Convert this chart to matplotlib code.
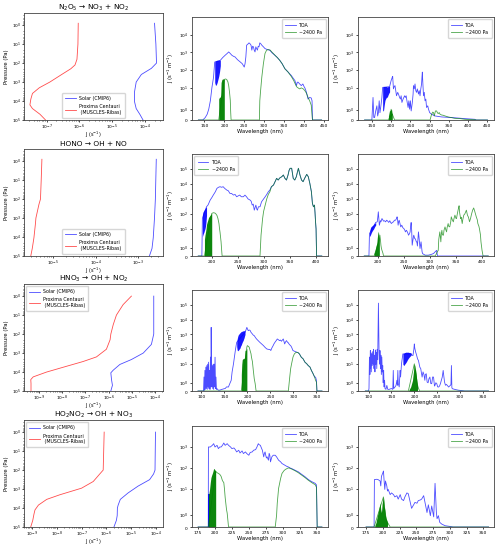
import matplotlib
matplotlib.use('Agg')
import matplotlib.pyplot as plt
import numpy as np

# ---- vertical J profiles (left column) ----
n2o5_sun_p = [0.8, 10, 100, 190, 400, 1000, 3200, 11000, 25000, 50000, 100000]
n2o5_sun_j = [2.0e-4, 2.2e-4, 2.3e-4, 1.6e-4, 7.9e-5, 5.5e-5, 4.9e-5, 4.9e-5, 5.5e-5, 7.1e-5, 8.9e-5]
n2o5_prox_p = [0.8, 10, 63, 126, 200, 400, 1000, 2000, 4000, 8000, 16000, 25000, 50000, 100000]
n2o5_prox_j = [9.3e-7, 9.1e-7, 8.5e-7, 7.4e-7, 5.5e-7, 2.9e-7, 1.26e-7, 6.0e-8, 3.7e-8, 3.3e-8, 3.1e-8, 3.7e-8, 6.3e-8, 9.3e-8]

hono_sun_p = [0.8, 10, 100, 1000, 11000, 40000, 100000]
hono_sun_j = [2.7e-3, 2.63e-3, 2.57e-3, 2.45e-3, 2.29e-3, 2.14e-3, 1.86e-3]
hono_prox_p = [0.8, 10, 100, 190, 1000, 2000, 11000, 40000, 100000]
hono_prox_j = [5.4e-6, 5.2e-6, 5.0e-6, 4.6e-6, 3.9e-6, 3.8e-6, 3.5e-6, 3.2e-6, 2.95e-6]

hno3_sun_p = [1, 100, 350, 1000, 2200, 4000, 8000, 11000, 25000, 50000, 100000]
hno3_sun_j = [9.1e-5, 9.1e-5, 7.2e-5, 3.2e-5, 9.8e-6, 3.1e-6, 1.6e-6, 1.26e-6, 1.35e-6, 1.48e-6, 1.26e-6]
hno3_prox_p = [1, 2.8, 10, 32, 100, 200, 630, 1600, 2800, 5000, 10000, 18000, 25000, 40000, 100000]
hno3_prox_j = [9.8e-6, 4.3e-6, 2.2e-6, 1.6e-6, 1.26e-6, 1.17e-6, 8.1e-7, 3.0e-7, 7.9e-8, 1.5e-8, 2.1e-9, 5.5e-10, 4.3e-10, 4.4e-10, 4.4e-10]

ho2no2_sun_p = [1, 100, 160, 320, 700, 1600, 3500, 7000, 10000, 25000, 45000, 100000]
ho2no2_sun_j = [9.3e-5, 8.9e-5, 7.8e-5, 5.4e-5, 1.86e-5, 7.4e-6, 3.6e-6, 2.95e-6, 2.75e-6, 2.7e-6, 2.5e-6, 2.0e-6]
ho2no2_prox_p = [1, 100, 160, 400, 900, 2000, 3500, 7000, 12600, 21000, 45000, 100000]
ho2no2_prox_j = [8.1e-7, 7.4e-7, 5.4e-7, 2.95e-7, 1.0e-7, 1.35e-8, 4.0e-9, 1.86e-9, 1.35e-9, 1.23e-9, 1.1e-9, 9.1e-10]

# ---- N2O5 spectra ----
n2o5_sun_toa_wl = [135, 146, 152, 157, 161, 165, 169, 173, 176, 190, 196, 202, 207, 211, 215, 219, 223, 227, 233, 240, 245,
                   250, 252, 254, 256, 259, 262, 265, 267, 269, 271, 273, 275, 277, 279, 281, 283, 285, 287, 289, 292,
                   294, 298, 302, 308, 314, 320, 327, 333, 339, 345, 352, 356, 360, 364, 368, 372, 377, 381, 383, 385,
                   389, 393, 397, 400, 402, 404, 406, 408, 410, 414, 418, 420, 421, 444]
n2o5_sun_toa = [0, 0, 0.24, 0.58, 1.1, 1.95, 10.7, 40, 290, 360, 514, 692, 870, 1070, 870, 692, 607, 556, 392, 290, 232,
                150, 232, 556, 2570, 2940, 3470, 3000, 2570, 1350, 2240, 2080, 1350, 1070, 2080, 1660, 1350, 2240, 2080, 3470, 3000,
                2570, 2080, 1660, 1450, 1350, 940, 692, 514, 360, 232, 120, 97, 78, 62, 50, 37, 26, 13.5, 21, 21,
                16.7, 13.5, 16.7, 11.8, 10, 7.6, 5.6, 3.6, 2.35, 2.9, 2.7, 1.95, 0, 0]
n2o5_sun_band_wl = [176, 178, 180, 182, 184, 186, 188, 190]
n2o5_sun_band_lo = [20, 14, 15, 20, 30, 45, 80, 180]
n2o5_sun_band_hi = [290, 330, 350, 360, 360, 370, 370, 360]
n2o5_sun_low_wl = [135, 186, 200, 203, 206, 209, 211, 213, 215, 216, 217, 288, 289, 291, 294, 296, 298, 300, 302, 306, 310,
                   315, 319, 323, 327, 333, 339, 345, 352, 360, 368, 374, 381, 385, 389, 393, 398, 402, 406, 410, 414,
                   418, 421, 444]
n2o5_sun_low = [0, 0, 30, 32, 30, 22, 13.5, 6, 2, 0.8, 0, 0, 1.95, 7, 40, 97, 232, 448, 870, 1350, 1450,
                1350, 1070, 870, 692, 514, 360, 232, 120, 78, 44, 26, 11.8, 10, 8.8, 10, 8.8, 7, 5, 2.9, 1.95,
                1.5, 0, 0]
n2o5_sun_low_band_wl = [186, 188, 190, 191, 192, 194, 196, 198, 200]
n2o5_sun_low_band_hi = [2.4, 3, 3, 4, 20, 30, 32, 32, 30]

n2o5_prox_toa_wl = [131, 150, 153, 155, 157, 160, 163, 165, 167, 169, 171, 174, 176, 178, 196, 200, 203, 204, 206, 208,
                    210, 212, 214, 217, 219, 222, 224, 226, 228, 231, 233, 235, 237, 239, 241, 244, 246, 248, 250, 252,
                    255, 257, 258, 260, 262, 264, 266, 268, 271, 273, 275, 277, 279, 280, 281, 282, 284, 286, 288, 290,
                    292, 295, 297, 300, 305, 314, 331, 357, 391, 417, 421, 450]
n2o5_prox_toa = [0, 0, 2.9, 0.25, 0.25, 0.92, 1.44, 0.41, 0.75, 1.95, 0.75, 1.61, 2.9, 10.7, 11.8, 26, 40, 45, 8.8, 11.8,
                 13.5, 7, 3.6, 5.6, 4.5, 2.9, 2.35, 3.6, 1.78, 2.35, 2.9, 3.6, 2.9, 3.6, 1.95, 1.27, 1.95, 1.1, 1.95, 0.92,
                 1.78, 4.5, 13.5, 8.8, 16.7, 7, 5.6, 8.8, 4.5, 7, 3.6, 8.8, 16.7, 40, 78, 26, 3.6, 5.6, 1.95, 2.35,
                 1.27, 1.44, 1.1, 0.75, 0.58, 0.41, 0.31, 0.25, 0.14, 0.07, 0, 0]
n2o5_prox_band_wl = [178, 180, 182, 184, 186, 188, 190, 192, 194, 196]
n2o5_prox_band_lo = [1, 0.9, 1.5, 2, 2.5, 3, 3, 4, 5, 6]
n2o5_prox_band_hi = [11, 12, 12, 12, 12, 12, 11, 12, 12, 12]
n2o5_prox_low_wl = [131, 192, 203, 205, 207, 209, 301, 305, 308, 310, 312, 315, 318, 320, 322, 325, 327, 331, 335, 340,
                    348, 357, 365, 380, 391, 417, 421, 450]
n2o5_prox_low = [0, 0, 0.6, 0.4, 0.2, 0, 0, 0.58, 0.8, 0.75, 0.41, 0.92, 0.92, 0.75, 0.65, 0.75, 0.58, 0.51, 0.48, 0.41,
                 0.31, 0.24, 0.17, 0.14, 0.07, 0.03, 0, 0]
n2o5_prox_low_band_wl = [193, 194, 195, 196, 197, 198, 199, 200, 201, 202, 203]
n2o5_prox_low_band_hi = [0.4, 0.6, 0.8, 1.0, 0.9, 1.2, 1.0, 1.2, 1.1, 0.8, 0.6]

# ---- HONO spectra ----
hono_sun_toa_wl = [174, 181, 182, 190, 193, 197, 200, 203, 207, 210, 213, 216, 219, 222, 225, 229, 232, 235, 238, 242,
                   245, 248, 251, 254, 257, 261, 264, 267, 270, 274, 276, 278, 280, 282, 284, 285, 287, 288, 290, 293,
                   296, 299, 303, 306, 309, 312, 315]
hono_sun_toa = [0, 0, 50, 300, 400, 836, 1200, 1810, 3020, 5060, 6000, 6550, 6000, 6550, 5060, 3910, 3500, 2340, 2340, 1810,
                2000, 1400, 1600, 1810, 1400, 1400, 1800, 1400, 1000, 836, 700, 387, 450, 178, 300, 387, 200, 178, 300, 299,
                646, 900, 1400, 2000, 3020, 3910, 6550]
hono_sun_band_wl = [182, 183, 184, 185, 186, 187, 188, 189, 190]
hono_sun_band_lo = [3, 4, 5, 6, 8, 10, 15, 30, 80]
hono_sun_band_hi = [80, 130, 150, 170, 200, 220, 250, 280, 300]
hono_sun_low_wl = [174, 186, 200, 203, 206, 208, 210, 212, 214, 215, 216, 218, 219, 220, 293, 295, 298, 300, 303, 306,
                   309, 312, 315, 319, 322, 325, 328, 331, 335, 338, 341, 344, 347, 349, 351, 354, 357, 360, 363, 365,
                   367, 370, 373, 376, 379, 383, 386, 389, 392, 394, 396, 398, 399, 400, 401, 402, 412]
hono_sun_low = [0, 0, 107, 120, 115, 100, 80, 49, 22, 10.5, 6, 1.7, 0.8, 0, 0, 3.8, 49, 150, 387, 1000,
                2000, 3000, 6550, 8460, 14150, 23700, 18300, 25000, 30600, 39600, 23700, 18300, 39600, 80000, 111000, 111000, 23700, 18300, 30600, 60000,
                111000, 39600, 18300, 14150, 23700, 43700, 30600, 10950, 3020, 500, 299, 387, 120, 29.5, 10, 0, 0]
hono_sun_low_band_wl = [186, 187, 188, 189, 190, 191, 192, 193, 194, 195, 196, 197, 198, 199, 200]
hono_sun_low_band_hi = [2, 3.8, 6, 10, 20, 27, 35, 45, 60, 64, 75, 83, 90, 100, 107]

hono_prox_toa_wl = [174, 183, 184, 196, 199, 200, 201, 202, 203, 205, 206, 208, 210, 211, 213, 215, 217, 219, 221, 223,
                    224, 226, 228, 230, 232, 234, 236, 237, 238, 239, 240, 241, 243, 244, 246, 248, 250, 252, 253, 255,
                    257, 259, 261, 262, 263, 264, 265, 266, 268, 269, 271, 272, 274, 275, 276, 277, 278, 279, 281, 283,
                    285, 286, 291, 297, 303, 307, 310, 313, 314, 315, 412]
hono_prox_toa = [0, 0, 4.9, 27, 29.5, 60, 138, 50, 17.6, 35, 29.5, 49, 38, 33, 35, 29.5, 38, 33, 27, 35,
                 29.5, 22.8, 27, 29.5, 38, 38, 49, 64, 40, 17.6, 29.5, 38, 20, 13.6, 17.6, 12, 10.5, 8, 6.3, 8.1,
                 6, 3.8, 5, 6.3, 15, 26.6, 8, 1.3, 2.5, 3.8, 2.2, 2.2, 1.7, 1.7, 1.2, 2, 6.3, 3, 0.9, 1.7,
                 0.5, 0.28, 0.1, 0.1, 0.2, 0.3, 0.5, 0.68, 0.2, 0, 0]
hono_prox_band_wl = [184, 185, 186, 187, 188, 189, 190, 191, 192, 193, 194, 195, 196]
hono_prox_band_lo = [3, 3.5, 4, 5, 6, 7, 8, 9, 10, 12, 14, 16, 18]
hono_prox_band_hi = [5, 9, 12, 14, 15, 16, 17, 18, 20, 22, 23, 25, 27]
hono_prox_low_wl = [174, 193, 203, 204, 205, 206, 207, 208, 209, 210, 211, 310, 312, 314, 316, 317, 319, 320, 321, 322,
                    323, 324, 326, 327, 329, 330, 332, 333, 335, 336, 338, 340, 341, 343, 345, 346, 348, 350, 351, 353,
                    355, 356, 357, 359, 360, 362, 363, 365, 367, 370, 372, 374, 376, 378, 380, 382, 384, 386, 389, 391,
                    392, 394, 395, 397, 398, 400, 402, 412]
hono_prox_low = [0, 0, 2, 3.8, 2, 1.29, 0.9, 0.68, 0.5, 0.3, 0, 0, 0.2, 0.5, 0.68, 2, 6.3, 3, 1.7, 5,
                 8.1, 4, 3.8, 8, 13.6, 10, 6.3, 12, 22.8, 15, 13.6, 30, 64, 40, 29.5, 45, 83, 50, 49, 120,
                 250, 350, 120, 49, 60, 22.8, 40, 83, 100, 178, 83, 60, 30, 50, 100, 178, 250, 150, 64, 40,
                 22.8, 15, 10.5, 4, 1.7, 0.7, 0, 0]
hono_prox_low_band_wl = [193, 194, 195, 196, 197, 198, 199, 200, 201, 202, 203]
hono_prox_low_band_hi = [0.3, 0.5, 0.7, 1.0, 1.3, 1.5, 2.5, 5, 7, 4, 2]

# ---- HNO3 spectra ----
hno3_sun_toa_wl = [93, 105, 106, 107, 108, 109, 110, 111, 112, 113, 114, 115, 116, 117, 118, 119, 120, 121, 121.6, 122,
                   123, 124, 125, 126, 127, 128, 129, 130, 131, 132, 133, 134, 137, 140, 145, 150, 152, 155, 159, 162,
                   165, 167, 170, 172, 174, 176, 177, 195, 197, 199, 200, 202, 204, 206, 208, 211, 213, 215, 218, 220,
                   223, 227, 231, 235, 238, 242, 245, 249, 251, 253, 256, 258, 260, 263, 265, 267, 270, 272, 274, 276,
                   278, 280, 281, 283, 285, 287, 288, 290, 292, 294, 296, 299, 302, 307, 310, 313, 317, 321, 325, 329,
                   332, 336, 339, 342, 346, 348, 350, 351, 362]
hno3_sun_toa = [0, 0, 1.7, 0.1, 3.8, 0.2, 6.3, 0.3, 8, 0.2, 10, 0.5, 13.6, 0.3, 3.8, 0.2, 30, 0.5, 3020, 50,
                0.5, 8.1, 0.3, 10, 0.2, 10, 0.5, 29.5, 0.3, 1.69, 0.2, 0.3, 0.1, 0.1, 0.2, 0.28, 0.3, 0.5, 0.48, 0.9,
                1.29, 3, 10.5, 30, 83, 200, 299, 1400, 2000, 3020, 2500, 1810, 2000, 1900, 1400, 1080, 900, 836, 600, 499,
                400, 299, 231, 178, 140, 107, 100, 98, 83, 120, 178, 240, 299, 400, 499, 450, 387, 420, 350, 420,
                499, 300, 231, 320, 387, 300, 299, 240, 200, 178, 140, 83, 75, 64, 60, 49, 29.5, 22.8, 13.6, 10.5,
                8.1, 6.3, 3.77, 2.5, 1.69, 1.69, 1.29, 0, 0]
hno3_sun_band_wl = [177, 178, 179, 180, 181, 182, 183, 184, 185, 186, 187, 188, 189, 190, 191, 192, 193, 194, 195]
hno3_sun_band_lo = [150, 90, 80, 83, 90, 100, 110, 120, 150, 180, 200, 250, 300, 350, 400, 500, 600, 800, 1000]
hno3_sun_band_hi = [300, 500, 700, 900, 1000, 1100, 1200, 1300, 1400, 1500, 1600, 1600, 1700, 1700, 1800, 1800, 1800, 1800, 1810]
hno3_sun_low_wl = [93, 187, 199, 200, 202, 204, 206, 208, 209, 211, 213, 215, 217, 219, 289, 292, 294, 296, 299, 302,
                   305, 307, 310, 313, 317, 321, 325, 329, 332, 336, 339, 342, 346, 348, 350, 351, 362]
hno3_sun_low = [0, 0, 140, 178, 160, 140, 83, 50, 29.5, 15, 3.8, 1.5, 0.9, 0, 0, 1.69, 5, 10.5, 29.5, 49,
                60, 64, 60, 49, 29.5, 22.8, 13.6, 10.5, 8.1, 6.3, 3.77, 2.5, 1.69, 1.29, 1.08, 0, 0]
hno3_sun_low_band_wl = [187, 188, 189, 190, 191, 192, 193, 194, 195, 196, 197, 198, 199]
hno3_sun_low_band_hi = [2, 10, 20, 22.8, 22.8, 25, 22.8, 30, 83, 90, 83, 100, 120]

hno3_prox_toa_wl = [93, 100, 101, 102, 103, 104, 104.5, 105, 106, 107, 108, 109, 110, 111, 112, 113, 114, 115, 116, 117,
                    118, 119, 120, 121.6, 123, 124, 125, 126, 127, 128, 129, 130, 131, 132, 133, 134, 135, 136, 138, 140,
                    142, 145, 150, 153, 154, 155, 158, 160, 162, 163, 164, 165, 167, 169, 170, 172, 174, 175, 193, 195,
                    197, 199, 200, 201, 203, 205, 207, 209, 212, 214, 217, 219, 221, 223, 224, 226, 228, 230, 232, 234,
                    236, 238, 240, 242, 244, 245, 247, 249, 251, 253, 255, 257, 259, 261, 263, 264, 266, 268, 270, 272,
                    275, 277, 279, 280, 281, 282, 283, 288, 296, 303, 310, 362]
hno3_prox_toa = [0, 0, 0.3, 30, 2, 83, 5, 60, 3, 49, 8, 70, 10, 100, 5, 40, 3, 90, 10, 60,
                 5, 100, 20, 130000, 60, 10, 83, 5, 40, 2, 30, 3, 8, 1, 3.8, 0.5, 1.3, 0.3, 0.2, 0.68,
                 0.2, 0.2, 0.3, 0.2, 3.8, 0.3, 0.5, 0.68, 1.3, 0.7, 3.8, 0.9, 0.5, 3.8, 1.7, 10.5, 29.5, 49, 49, 40,
                 38, 100, 231, 120, 64, 40, 22.8, 17.6, 6.3, 5, 1.69, 3, 2, 1.3, 2, 2.25, 1.08, 1, 1.5, 1.69,
                 0.9, 0.89, 1.7, 1.69, 0.6, 0.68, 1, 0.89, 0.5, 0.48, 0.6, 0.89, 1.3, 1.69, 3.77, 2, 1.08, 0.7, 0.8, 0.68,
                 0.48, 0.6, 0.7, 0.8, 8.1, 0.4, 0.28, 0.2, 0.1, 0.05, 0, 0]
hno3_prox_band_wl = [175, 177, 179, 181, 183, 185, 187, 189, 191, 193]
hno3_prox_band_lo = [10, 8, 10, 12, 15, 20, 25, 30, 35, 40]
hno3_prox_band_hi = [50, 55, 60, 64, 64, 64, 64, 60, 60, 55]
hno3_prox_low_wl = [93, 187, 200, 202, 204, 206, 208, 210, 212, 362]
hno3_prox_low = [0, 0, 10.5, 4, 2, 1, 0.5, 0.2, 0, 0]
hno3_prox_low_band_wl = [188, 190, 192, 194, 196, 198, 199, 200, 201, 202, 203, 205, 207]
hno3_prox_low_band_hi = [0.1, 0.3, 0.5, 0.9, 1.3, 3, 6, 10.5, 8, 5, 3.8, 1.5, 0.68]

# ---- HO2NO2 spectra ----
ho2no2_sun_toa_wl = [175, 190, 190.3, 193, 196, 198, 200, 203, 205, 207, 209, 211, 213, 215, 218, 220, 223, 225, 228, 230,
                     232, 235, 237, 240, 242, 245, 247, 250, 252, 255, 257, 260, 262, 264, 265, 267, 269, 270, 272, 273,
                     274, 275, 276, 277, 279, 280, 281, 282, 284, 286, 289, 291, 294, 297, 299, 301, 303, 306, 308, 311,
                     313, 318, 323, 328, 333, 338, 343, 348, 350, 351, 358]
ho2no2_sun_toa = [0, 0, 1000, 1000, 1200, 1440, 1000, 1200, 837, 1000, 1000, 1200, 1550, 1200, 1440, 1200, 1000, 837, 900, 750,
                  583, 700, 520, 650, 486, 583, 486, 405, 550, 583, 700, 750, 1000, 1440, 1300, 1200, 837, 700, 338, 500,
                  583, 400, 300, 338, 235, 500, 405, 196, 338, 405, 405, 338, 235, 196, 163, 150, 137, 120, 114, 100,
                  95, 79, 66, 50, 38.4, 28, 22.3, 18.6, 15.5, 0, 0]
ho2no2_sun_band_wl = [190, 191, 192, 193]
ho2no2_sun_band_lo = [0, 0, 0, 0]
ho2no2_sun_band_hi = [5.8, 5.8, 5.8, 5.8]
ho2no2_sun_low_wl = [175, 190, 201, 203, 205, 207, 209, 211, 213, 214, 215, 217, 218, 220, 289, 291, 292, 294, 297, 299,
                     302, 304, 308, 310, 311, 313, 318, 323, 328, 333, 338, 343, 348, 350, 351, 358]
ho2no2_sun_low = [0, 0, 70, 60, 55, 50, 40, 25, 20, 10, 4, 1.5, 1.19, 0, 0, 1, 2.1, 10.8, 32, 55,
                  75, 85, 100, 100, 95, 90, 75, 60, 46, 35, 26, 20, 16, 12, 0, 0]
ho2no2_sun_low_band_wl = [190.5, 191, 192, 193, 194, 195, 196, 197, 198, 199, 200, 201]
ho2no2_sun_low_band_hi = [5.8, 6, 10, 20, 35, 45, 55, 70, 95, 90, 80, 70]

ho2no2_prox_toa_wl = [175, 187, 187.5, 191, 193, 196, 197, 198, 200, 201, 202, 203, 204, 206, 207, 208, 211, 213, 216, 218,
                      221, 223, 226, 228, 231, 233, 236, 238, 241, 243, 246, 248, 251, 253, 256, 258, 261, 263, 266, 268,
                      271, 273, 276, 278, 280, 281, 283, 285, 288, 293, 300, 305, 358]
ho2no2_prox_toa = [0, 0, 28, 29, 28, 24, 14, 40, 58, 72, 24, 9.6, 24, 14, 8, 9.6, 5.4, 6.5, 5.4, 4.2,
                   4.8, 3.3, 5.4, 3.3, 2.8, 4.2, 6.5, 6, 2.3, 1.6, 1.9, 2.3, 2.1, 2.8, 3.0, 3.3, 4.8, 2.3, 1.24, 1.9,
                   0.97, 1.8, 0.87, 18.6, 1.24, 0.71, 0.97, 0.4, 0.25, 0.11, 0.05, 0, 0]
ho2no2_prox_low_wl = [175, 187, 201, 203, 205, 207, 209, 211, 358]
ho2no2_prox_low = [0, 0, 4.2, 1.5, 0.71, 0.4, 0.2, 0, 0]
ho2no2_prox_low_band_wl = [188, 190, 191, 193, 195, 196, 197, 198, 199, 200, 201, 202, 203, 204, 205, 207]
ho2no2_prox_low_band_hi = [0.1, 0.4, 0.71, 1.24, 1.8, 2.2, 1.5, 1.24, 2, 3, 4.2, 1.8, 1.5, 0.97, 0.71, 0.4]

titles = ['N$_2$O$_5$ → NO$_3$ + NO$_2$', 'HONO → OH + NO',
          'HNO$_3$ → OH + NO$_2$', 'HO$_2$NO$_2$ → OH + NO$_3$']

profiles = [
    (n2o5_sun_p, n2o5_sun_j, n2o5_prox_p, n2o5_prox_j),
    (hono_sun_p, hono_sun_j, hono_prox_p, hono_prox_j),
    (hno3_sun_p, hno3_sun_j, hno3_prox_p, hno3_prox_j),
    (ho2no2_sun_p, ho2no2_sun_j, ho2no2_prox_p, ho2no2_prox_j),
]
profile_xlim_exp = [(-7.69, -3.44), (-5.69, -2.41), (-9.66, -3.64), (-9.31, -3.73)]
profile_legend = ['lower center', 'lower center', 'upper left', 'upper left']

spectra_sun = [
    (n2o5_sun_toa_wl, n2o5_sun_toa, n2o5_sun_band_wl, n2o5_sun_band_lo, n2o5_sun_band_hi,
     n2o5_sun_low_wl, n2o5_sun_low, n2o5_sun_low_band_wl, n2o5_sun_low_band_hi),
    (hono_sun_toa_wl + hono_sun_low_wl[23:], hono_sun_toa + hono_sun_low[23:], hono_sun_band_wl, hono_sun_band_lo, hono_sun_band_hi,
     hono_sun_low_wl, hono_sun_low, hono_sun_low_band_wl, hono_sun_low_band_hi),
    (hno3_sun_toa_wl, hno3_sun_toa, hno3_sun_band_wl, hno3_sun_band_lo, hno3_sun_band_hi,
     hno3_sun_low_wl, hno3_sun_low, hno3_sun_low_band_wl, hno3_sun_low_band_hi),
    (ho2no2_sun_toa_wl, ho2no2_sun_toa, ho2no2_sun_band_wl, ho2no2_sun_band_lo, ho2no2_sun_band_hi,
     ho2no2_sun_low_wl, ho2no2_sun_low, ho2no2_sun_low_band_wl, ho2no2_sun_low_band_hi),
]
spectra_prox = [
    (n2o5_prox_toa_wl, n2o5_prox_toa, n2o5_prox_band_wl, n2o5_prox_band_lo, n2o5_prox_band_hi,
     n2o5_prox_low_wl, n2o5_prox_low, n2o5_prox_low_band_wl, n2o5_prox_low_band_hi),
    (hono_prox_toa_wl, hono_prox_toa, hono_prox_band_wl, hono_prox_band_lo, hono_prox_band_hi,
     hono_prox_low_wl, hono_prox_low, hono_prox_low_band_wl, hono_prox_low_band_hi),
    (hno3_prox_toa_wl, hno3_prox_toa, hno3_prox_band_wl, hno3_prox_band_lo, hno3_prox_band_hi,
     hno3_prox_low_wl, hno3_prox_low, hno3_prox_low_band_wl, hno3_prox_low_band_hi),
    (ho2no2_prox_toa_wl, ho2no2_prox_toa, None, None, None,
     ho2no2_prox_low_wl, ho2no2_prox_low, ho2no2_prox_low_band_wl, ho2no2_prox_low_band_hi),
]
spec_xlim_sun = [(119, 460), (162, 424), (80, 375), (166, 367)]
spec_xlim_prox = [(114, 467), (162, 423), (77, 374), (163, 366)]
spec_xticks = [range(150, 451, 50), range(200, 401, 50), range(100, 351, 50), range(175, 351, 25)]
spec_ytop = [5, 6, 6, 4]
spec_legend_sun = ['upper right', 'upper left', 'upper right', 'upper right']

W, H = 500, 547
fig = plt.figure(figsize=(5, 5.47), dpi=100)

TICK_FS = 3.2
LABEL_FS = 3.8
LEG_FS = 3.4
TITLE_FS = 5.3


def px_axes(l, t, r, b):
    return fig.add_axes([l / W, 1 - b / H, (r - l) / W, (b - t) / H])


def style(ax, pad=1.0):
    ax.tick_params(labelsize=TICK_FS, length=1.6, width=0.5, pad=pad)
    ax.tick_params(which='minor', length=1.0, width=0.4)
    for s in ax.spines.values():
        s.set_linewidth(0.6)
        s.set_color('#444444')


row_top_left = [13, 149, 284, 420]
row_top_spec = [17, 154, 290, 426]
row_bottom = [120, 256, 391, 527]

for i in range(4):
    # profile panel
    ax = px_axes(24, row_top_left[i], 163, row_bottom[i])
    ps, js, pp, jp = profiles[i]
    ax.plot(js, ps, color='blue', alpha=0.7, lw=0.6, label='Solar (CMIP6)')
    ax.plot(jp, pp, color='red', alpha=0.7, lw=0.6, label='Proxima Centauri\n (MUSCLES-Ribas)')
    ax.set_xscale('log')
    ax.set_yscale('log')
    lo, hi = profile_xlim_exp[i]
    ax.set_xticks([10.0 ** k for k in range(int(np.ceil(lo)), int(np.floor(hi)) + 1)])
    ax.set_yticks([10.0 ** k for k in range(0, 6)])
    ax.set_xlim(10 ** lo, 10 ** hi)
    ax.set_ylim(1e5, 0.23)
    ax.set_title(titles[i], fontsize=TITLE_FS, pad=2)
    ax.set_xlabel('J (s$^{-1}$)', fontsize=3.6)
    ax.set_ylabel('Pressure (Pa)', fontsize=LABEL_FS)
    ax.xaxis.set_label_coords(0.5, -0.088)
    ax.yaxis.set_label_coords(-0.105, 0.5)
    ax.legend(loc=profile_legend[i], fontsize=LEG_FS, handlelength=2.2, borderpad=0.6, labelspacing=0.7)
    style(ax, pad=0.6)

    # spectra panels
    for col, (spec, xl, left, right) in enumerate([(spectra_sun[i], spec_xlim_sun[i], 192, 328),
                                                    (spectra_prox[i], spec_xlim_prox[i], 358, 494)]):
        ax = px_axes(left, row_top_spec[i], right, row_bottom[i])
        twl, toa, bwl, blo, bhi, lwl, low, lbwl, lbhi = spec
        ax.plot(twl, toa, color='blue', alpha=0.7, lw=0.6, label='TOA')
        if bwl is not None:
            ax.fill_between(bwl, blo, bhi, color='blue', alpha=0.9, lw=0)
        ax.plot(lwl, low, color='green', alpha=0.7, lw=0.6, label='~2400 Pa')
        ax.fill_between(lbwl, 0, lbhi, color='green', alpha=0.95, lw=0)
        ax.set_yscale('symlog')
        ax.set_ylim(0, 10 ** spec_ytop[i])
        ax.set_yticks([0] + [10 ** k for k in range(0, spec_ytop[i])])
        ax.set_xlim(*xl)
        ax.set_xticks(list(spec_xticks[i]))
        ax.set_xlabel('Wavelength (nm)', fontsize=LABEL_FS)
        ax.set_ylabel('J (s$^{-1}$ m$^{-1}$)', fontsize=LABEL_FS)
        ax.xaxis.set_label_coords(0.5, -0.085)
        ax.yaxis.set_label_coords(-0.12, 0.5)
        loc = spec_legend_sun[i] if col == 0 else 'upper right'
        ax.legend(loc=loc, fontsize=LEG_FS, handlelength=2.2, borderpad=0.7)
        style(ax)
        ax.minorticks_off()

fig.savefig('out.png', dpi=100)
